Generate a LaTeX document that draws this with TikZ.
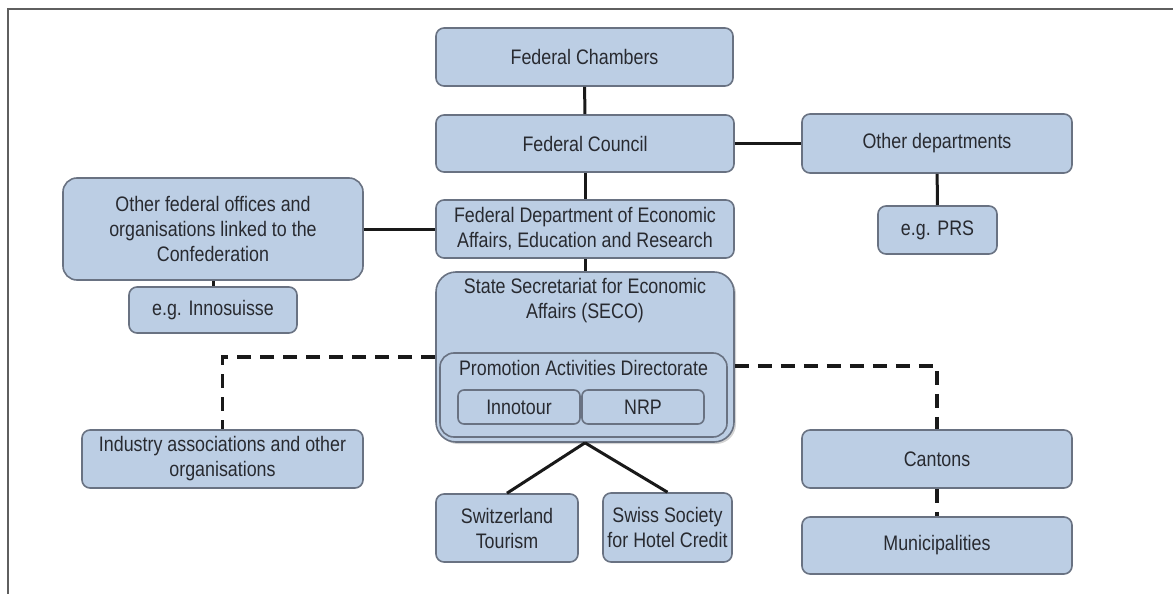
\documentclass[tikz,border=0pt]{standalone}
\usepackage{fontspec}
\setmainfont[FakeStretch=0.85]{Liberation Sans}
\usepackage{tikz}
\usetikzlibrary{positioning, shadows}
\definecolor{orgFill}{RGB}{188,206,228}
\definecolor{orgLine}{RGB}{105,114,130}
\definecolor{orgText}{RGB}{40,42,48}
\definecolor{orgFrame}{RGB}{95,95,95}

\begin{document}
\begin{tikzpicture}[
  x=1pt, y=-1pt,
  box/.style={draw=orgLine, fill=orgFill, line width=1.6pt, rounded corners=8pt,
              inner sep=0pt, align=center, text=orgText,
              font=\fontsize{21}{25}\selectfont},
  txt/.style={inner sep=0pt, align=center, text=orgText,
              font=\fontsize{21}{25}\selectfont},
  link/.style={line width=3pt, draw=black!90},
  dlink/.style={link, line width=3.2pt, dash pattern=on 14pt off 9pt},
]
  \useasboundingbox (0,0) rectangle (1173,594);
  \draw[orgFrame, line width=1.8pt] (8,594) -- (8,9) -- (1173,9);

  % central column
  \node[box, minimum width=297pt, minimum height=58pt] (chambers) at (584.5,57) {Federal Chambers};
  \node[box, minimum width=298pt, minimum height=57pt] (council) at (585,143.5) {Federal Council};
  \node[box, minimum width=298pt, minimum height=58pt] (dept) at (585,229)
    {Federal Department of Economic\\Affairs, Education and Research};
  \node[box, rounded corners=20pt, minimum width=298pt, minimum height=170pt,
        drop shadow={shadow xshift=2pt, shadow yshift=-2pt, opacity=0.35}] (seco) at (585,357) {};
  \node[txt, below=7pt of seco.north] (secolbl) {State Secretariat for Economic\\Affairs (SECO)};
  \node[box, rounded corners=14pt, minimum width=287pt, minimum height=84pt] (promo) at (583.5,395) {};
  \node[txt, below=8pt of promo.north] (promolbl) {Promotion Activities Directorate};
  \node[box, rounded corners=6pt, minimum width=122pt, minimum height=34pt] (innotour) at (519,407) {Innotour};
  \node[box, rounded corners=6pt, minimum width=122pt, minimum height=34pt] (nrp) at (643,407) {NRP};
  \node[box, minimum width=142pt, minimum height=68pt] (swtour) at (507,528) {Switzerland\\Tourism};
  \node[box, minimum width=129pt, minimum height=69pt] (hotel) at (667.5,527.5) {Swiss Society\\for Hotel Credit};

  % left side
  \node[box, rounded corners=14pt, minimum width=300pt, minimum height=102pt] (offices) at (213,229)
    {Other federal offices and\\organisations linked to the\\Confederation};
  \node[box, minimum width=168pt, minimum height=46pt] (innosuisse) at (213,310) {e.g. Innosuisse};
  \node[box, minimum width=281pt, minimum height=58pt] (industry) at (222.5,459)
    {Industry associations and other\\organisations};

  % right side
  \node[box, minimum width=270pt, minimum height=59pt] (otherdep) at (937,143.5) {Other departments};
  \node[box, minimum width=119pt, minimum height=48pt] (prs) at (937.5,230) {e.g. PRS};
  \node[box, minimum width=270pt, minimum height=58pt] (cantons) at (937,459) {Cantons};
  \node[box, minimum width=270pt, minimum height=57pt] (munic) at (937,545.5) {Municipalities};

  % links
  \draw[link] (chambers) -- (council);
  \draw[link] (council) -- (otherdep);
  \draw[link] (otherdep) -- (prs);
  \draw[link] (council) -- (dept);
  \draw[link] (offices) -- (dept);
  \draw[link] (offices) -- (innosuisse);
  \draw[link] (dept) -- (seco);
  \draw[link] (seco.south) -- (swtour.north);
  \draw[link] (seco.south) -- (hotel.north);
  \draw[dlink] (seco.west) -| (industry.north);
  \draw[dlink] ([yshift=-9pt]seco.east) -| (cantons.north);
  \draw[dlink] (cantons) -- (munic);
\end{tikzpicture}
\end{document}
